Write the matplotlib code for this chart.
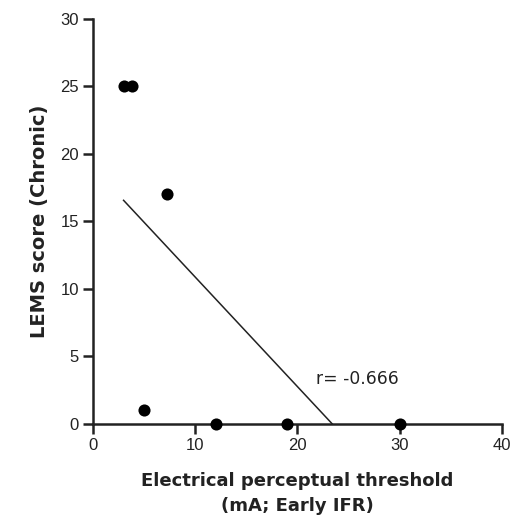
import numpy as np
import matplotlib
matplotlib.use("Agg")
import matplotlib.pyplot as plt

plt.rcParams['font.family'] = ['Liberation Sans', 'DejaVu Sans']

# Data
threshold_mA = [3.0, 3.8, 7.2, 5.0, 12.0, 19.0, 30.0]
lems_score = [25, 25, 17, 1, 0, 0, 0]
r_label = "r= -0.666"
x_ticks = [0, 10, 20, 30, 40]
y_ticks = [0, 5, 10, 15, 20, 25, 30]

fig = plt.figure(figsize=(5.16, 5.22), dpi=100)
ax = fig.add_axes([0.180, 0.188, 0.793, 0.776])

x = np.array(threshold_mA)
y = np.array(lems_score)
slope, intercept = np.polyfit(x, y, 1)
x0 = x.min()
x1 = -intercept / slope
ax.plot([x0, x1], [slope * x0 + intercept, 0], color='#222222', lw=1.1, clip_on=False)

ax.scatter(x, y, s=76, color='black', linewidths=0, zorder=3, clip_on=False)

ax.text(21.8, 3.3, r_label, fontsize=12.3, family='DejaVu Sans', color='#222222',
        ha='left', va='center')

ax.set_xlim(0, 40)
ax.set_ylim(0, 30)
ax.set_xticks(x_ticks)
ax.set_yticks(y_ticks)
for s in ['top', 'right']:
    ax.spines[s].set_visible(False)
for s in ['left', 'bottom']:
    ax.spines[s].set_linewidth(1.8)
    ax.spines[s].set_color('#222222')
ax.tick_params(axis='both', direction='out', length=7, width=1.8, color='#222222',
               labelsize=12, labelcolor='#222222', pad=3)

ax.set_xlabel("Electrical perceptual threshold\n(mA; Early IFR)", fontsize=13,
              family='DejaVu Sans', fontweight='bold', color='#222222',
              labelpad=14, linespacing=1.5)
ax.set_ylabel("LEMS score (Chronic)", fontsize=14, family='DejaVu Sans',
              fontweight='bold', color='#222222', labelpad=8)

fig.savefig("out.png", dpi=100)
